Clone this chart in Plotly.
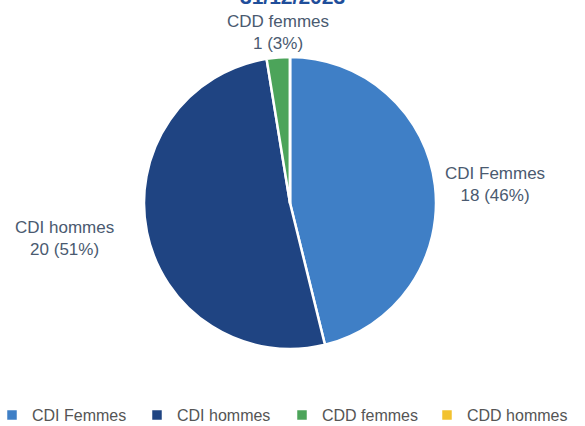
import math
import plotly.graph_objects as go

# Effectifs au 31/12/2023 par type de contrat et sexe
labels = ["CDI Femmes", "CDI hommes", "CDD femmes", "CDD hommes"]
values = [18, 20, 1, 0]
colors = ["#3F7FC6", "#1F4482", "#4CA45A", "#F2C230"]
title_text = "31/12/2023"

W, H = 585, 426
cx, cy, r = 290, 203, 146  # pixel centre and radius of the pie
label_gap = [8, 32, 2, 0]  # distance between pie edge and each data label
label_font = dict(family="Liberation Sans, Arial, sans-serif", size=17, color="#4A5A70")

fig = go.Figure()
fig.add_trace(go.Pie(
    labels=labels,
    values=values,
    sort=False,
    direction="clockwise",
    rotation=0,
    marker=dict(colors=colors, line=dict(color="white", width=2.5)),
    textinfo="none",
    hoverinfo="label+value+percent",
    domain=dict(x=[(cx - r) / W, (cx + r) / W], y=[1 - (cy + r) / H, 1 - (cy - r) / H]),
))

# Data labels placed outside each slice, around its mid-angle
total = sum(values)
cum = 0
for lab, v, gap in zip(labels, values, label_gap):
    if v == 0:
        continue
    mid = (cum + v / 2) / total * 2 * math.pi
    cum += v
    s, c = math.sin(mid), math.cos(mid)
    px = cx + (r + gap) * s
    py = cy - (r + gap) * c
    if s > 0.4:
        xanchor = "left"
    elif s < -0.4:
        xanchor = "right"
    else:
        xanchor = "center"
    if c > 0.7:
        yanchor = "bottom"
    elif c < -0.7:
        yanchor = "top"
    else:
        yanchor = "middle"
    pct = round(v / total * 100)
    fig.add_annotation(
        text=f"{lab}<br>{v} ({pct}%)", xref="paper", yref="paper",
        x=px / W, y=1 - py / H, xanchor=xanchor, yanchor=yanchor,
        align="center", showarrow=False, font=label_font,
    )

fig.add_annotation(
    text="<b>" + title_text + "</b>",
    xref="paper", yref="paper", x=0.5, y=1 + 4 / H,
    xanchor="center", yanchor="middle", showarrow=False,
    font=dict(family="Liberation Sans, Arial, sans-serif", size=21, color="#1F4E9A"),
)

fig.update_layout(
    width=W, height=H,
    margin=dict(l=0, r=0, t=0, b=0, autoexpand=False),
    paper_bgcolor="white",
    plot_bgcolor="white",
    showlegend=True,
    legend=dict(
        orientation="h", x=-8 / W, y=-6 / H, xanchor="left", yanchor="bottom",
        font=dict(family="Liberation Sans, Arial, sans-serif", size=16, color="#555555"),
        entrywidth=100, entrywidthmode="pixels", itemwidth=30, traceorder="normal",
    ),
)

fig.write_html("out.html")
